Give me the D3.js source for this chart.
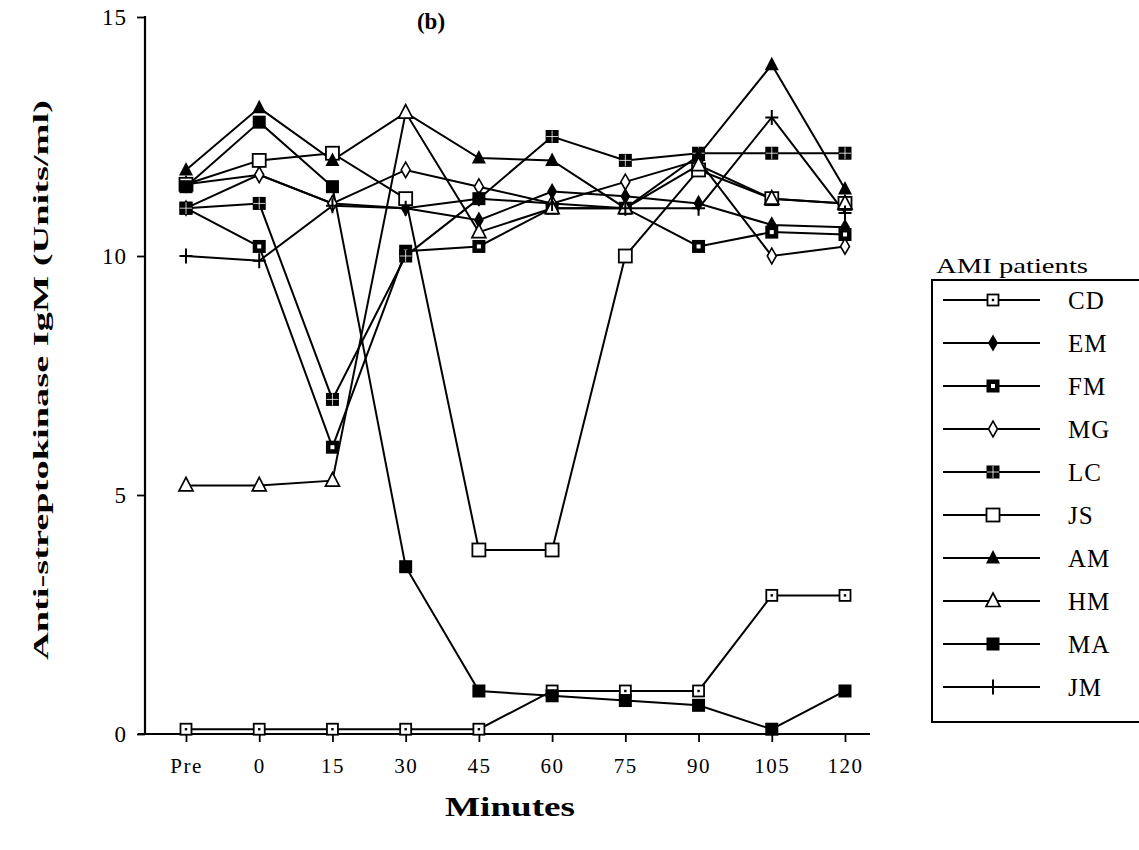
<!DOCTYPE html>
<html>
<head>
<meta charset="utf-8">
<script src="https://cdn.jsdelivr.net/npm/d3@7"></script>
<style>
  body { margin: 0; background: #fff; }
  text { font-family: "Liberation Serif", "DejaVu Serif", serif; fill: #000; }
</style>
</head>
<body>
<svg id="chart"></svg>
<script>
// Time points (minutes)
const times = ["Pre", "0", "15", "30", "45", "60", "75", "90", "105", "120"];
const yTicks = [0, 5, 10, 15];

// Anti-streptokinase IgM per patient
const CD = [0.1, 0.1, 0.1, 0.1, 0.1, 0.9, 0.9, 0.9, 2.9, 2.9];
const EM = [11.0, 11.7, 11.1, 11.0, 10.75, 11.35, 11.25, 11.1, 10.65, 10.6];
const FM = [11.0, 10.2, 6.0, 10.1, 10.2, 11.0, 11.0, 10.2, 10.5, 10.45];
const MG = [11.5, 11.7, 11.1, 11.8, 11.45, 11.1, 11.55, 12.0, 10.0, 10.2];
const LC = [11.0, 11.1, 7.0, 10.0, 11.2, 12.5, 12.0, 12.15, 12.15, 12.15];
const JS = [11.5, 12.0, 12.15, 11.2, 3.85, 3.85, 10.0, 11.8, 11.2, 11.1];
const AM = [11.8, 13.1, 12.0, 13.0, 12.05, 12.0, 11.0, 12.1, 14.0, 11.4];
const HM = [5.2, 5.2, 5.3, 13.0, 10.5, 11.0, 11.0, 11.9, 11.2, 11.1];
const MA = [11.45, 12.8, 11.45, 3.5, 0.9, 0.8, 0.7, 0.6, 0.1, 0.9];
const JM = [10.0, 9.9, 11.05, 11.0, 11.2, 11.1, 11.0, 11.0, 12.9, 10.9];

const patients = ["CD", "EM", "FM", "MG", "LC", "JS", "AM", "HM", "MA", "JM"];
const values = { CD, EM, FM, MG, LC, JS, AM, HM, MA, JM };
const markers = {
  CD: "dotSquare", EM: "fillDiamond", FM: "holeSquare", MG: "openDiamond",
  LC: "gridSquare", JS: "openSquare", AM: "fillTriangle", HM: "openTriangle",
  MA: "fillSquare", JM: "plus"
};

const width = 1139, height = 850;

const svg = d3.select("#chart")
    .attr("width", width)
    .attr("height", height);

const x = d3.scalePoint()
    .domain(times)
    .range([186, 845]);

const y = d3.scaleLinear()
    .domain([0, 15])
    .range([734, 17]);

// Draws one marker centred on (cx, cy)
function drawMarker(g, type, cx, cy) {
  const m = g.append("g").attr("transform", `translate(${cx},${cy})`);
  if (type === "dotSquare") {
    m.append("rect").attr("x", -5.5).attr("y", -5.5).attr("width", 11).attr("height", 11)
        .attr("fill", "#fff").attr("stroke", "#000").attr("stroke-width", 1.8);
    m.append("rect").attr("x", -1.2).attr("y", -1.2).attr("width", 2.4).attr("height", 2.4).attr("fill", "#000");
  } else if (type === "openSquare") {
    m.append("rect").attr("x", -6.5).attr("y", -6.5).attr("width", 13).attr("height", 13)
        .attr("fill", "#fff").attr("stroke", "#000").attr("stroke-width", 1.8);
  } else if (type === "fillSquare") {
    m.append("rect").attr("x", -6.5).attr("y", -6.5).attr("width", 13).attr("height", 13).attr("fill", "#000");
  } else if (type === "holeSquare") {
    m.append("rect").attr("x", -6.5).attr("y", -6.5).attr("width", 13).attr("height", 13).attr("fill", "#000");
    m.append("rect").attr("x", -2).attr("y", -2).attr("width", 4).attr("height", 4).attr("fill", "#fff");
  } else if (type === "gridSquare") {
    m.append("rect").attr("x", -6.5).attr("y", -6.5).attr("width", 13).attr("height", 13).attr("fill", "#000");
    m.append("path").attr("d", "M-6,0H6M0,-6V6").attr("stroke", "#fff").attr("stroke-width", 0.8);
  } else if (type === "fillDiamond") {
    m.append("path").attr("d", d3.symbol(d3.symbolDiamond, 85)()).attr("fill", "#000");
  } else if (type === "openDiamond") {
    m.append("path").attr("d", d3.symbol(d3.symbolDiamond, 70)())
        .attr("fill", "#fff").attr("stroke", "#000").attr("stroke-width", 1.6);
  } else if (type === "fillTriangle") {
    m.append("path").attr("d", "M0,-8L7,5.5H-7Z").attr("fill", "#000");
  } else if (type === "openTriangle") {
    m.append("path").attr("d", "M0,-8L7,5.5H-7Z")
        .attr("fill", "#fff").attr("stroke", "#000").attr("stroke-width", 1.7);
  } else if (type === "plus") {
    m.append("path").attr("d", "M-6.5,0H6.5M0,-7.5V7.5").attr("stroke", "#000").attr("stroke-width", 2);
  }
}

// Axes
const yAxis = svg.append("g")
    .attr("transform", "translate(145,0)")
    .call(d3.axisLeft(y).tickValues(yTicks).tickSize(8).tickPadding(10));
yAxis.select(".domain").remove();
yAxis.selectAll("line").attr("stroke-width", 1.8);
yAxis.selectAll("text")
    .attr("font-size", 23)
    .attr("letter-spacing", 1)
    .attr("font-family", "Liberation Serif");

const xAxis = svg.append("g")
    .attr("transform", "translate(0,734)")
    .call(d3.axisBottom(x).tickSize(8).tickPadding(16));
xAxis.select(".domain").remove();
xAxis.selectAll("line").attr("stroke-width", 1.8);
xAxis.selectAll("text")
    .attr("font-size", 21)
    .attr("letter-spacing", 1.5)
    .attr("font-family", "Liberation Serif");

svg.append("line")
    .attr("x1", 145).attr("x2", 145).attr("y1", 16).attr("y2", 735)
    .attr("stroke", "#000").attr("stroke-width", 2.2);
svg.append("line")
    .attr("x1", 138).attr("x2", 870).attr("y1", 734).attr("y2", 734)
    .attr("stroke", "#000").attr("stroke-width", 2.2);

// Series lines
const line = d3.line()
    .x((d, i) => x(times[i]))
    .y(d => y(d));

const plot = svg.append("g");
patients.forEach(p => {
  plot.append("path")
      .datum(values[p])
      .attr("d", line)
      .attr("fill", "none")
      .attr("stroke", "#000")
      .attr("stroke-width", 2);
});
patients.forEach(p => {
  values[p].forEach((v, i) => drawMarker(plot, markers[p], x(times[i]), y(v)));
});

// Titles
svg.append("text")
    .attr("x", 431).attr("y", 29)
    .attr("text-anchor", "middle")
    .attr("font-size", 23).attr("font-weight", "bold")
    .text("(b)");

svg.append("text")
    .attr("transform", "translate(48,380) rotate(-90)")
    .attr("text-anchor", "middle")
    .attr("font-size", 22).attr("font-weight", "bold")
    .attr("textLength", 560).attr("lengthAdjust", "spacingAndGlyphs")
    .text("Anti-streptokinase IgM (Units/ml)");

svg.append("text")
    .attr("x", 510).attr("y", 816)
    .attr("text-anchor", "middle")
    .attr("font-size", 27).attr("font-weight", "bold")
    .attr("textLength", 130).attr("lengthAdjust", "spacingAndGlyphs")
    .text("Minutes");

// Legend
svg.append("text")
    .attr("x", 1012).attr("y", 273)
    .attr("text-anchor", "middle")
    .attr("font-size", 22)
    .attr("textLength", 152).attr("lengthAdjust", "spacingAndGlyphs")
    .text("AMI patients");

svg.append("rect")
    .attr("x", 932).attr("y", 280).attr("width", 210).attr("height", 442)
    .attr("fill", "none").attr("stroke", "#000").attr("stroke-width", 2);

const legend = svg.append("g");
patients.forEach((p, i) => {
  const ly = 300 + i * 43;
  legend.append("line")
      .attr("x1", 943).attr("x2", 1040).attr("y1", ly).attr("y2", ly)
      .attr("stroke", "#000").attr("stroke-width", 1.8);
  drawMarker(legend, markers[p], 993, ly);
  legend.append("text")
      .attr("x", 1068).attr("y", ly + 9)
      .attr("font-size", 25)
      .attr("letter-spacing", 1)
      .text(p);
});
</script>
</body>
</html>
